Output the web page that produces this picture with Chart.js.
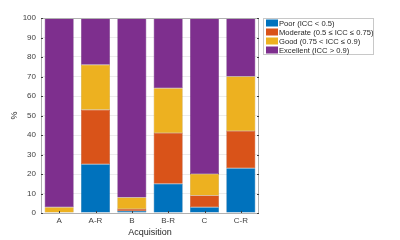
<!DOCTYPE html>
<html><head><meta charset="utf-8">
<script src="https://cdn.jsdelivr.net/npm/chart.js@4"></script>
<style>html,body{margin:0;padding:0;background:#fff}#wrap{width:400px;height:240px}</style>
</head><body><div id="wrap"><canvas id="c" width="400" height="240"></canvas></div>
<script>
const categories = ["A", "A-R", "B", "B-R", "C", "C-R"];
const poor      = [0, 25, 1, 15, 3, 23];
const moderate  = [0, 28, 1, 26, 6, 19];
const good      = [3, 23, 6, 23, 11, 28];
const excellent = [97, 24, 92, 36, 80, 30];
const seriesLabels = ["Poor (ICC < 0.5)", "Moderate (0.5 \u2264 ICC \u2264 0.75)", "Good (0.75 < ICC \u2264 0.9)", "Excellent (ICC > 0.9)"];
const colors = ["#0072BD", "#D95319", "#EDB120", "#7E2F8E"];
const edges = ["#005a96", "#a8401a", "#b88a1a", "#5e2370"];
const yTicks = [0,10,20,30,40,50,60,70,80,90,100];

const FONT = "'Liberation Sans', Arial, sans-serif";
const TXT = "#262626";

const boxPlugin = {
  id: 'boxLegend',
  afterDraw(chart) {
    const ctx = chart.ctx, a = chart.chartArea;
    ctx.save();
    ctx.strokeStyle = "#b0b0b0"; ctx.lineWidth = 1;
    ctx.strokeRect(Math.round(a.left)+0.5, Math.round(a.top)+0.5, Math.round(a.right-a.left)-1, Math.round(a.bottom-a.top));
    const ys = chart.scales.y;
    ctx.strokeStyle = "#404040";
    yTicks.forEach(v => {
      const y = Math.round(ys.getPixelForValue(v)) + 0.5;
      ctx.beginPath(); ctx.moveTo(a.left, y); ctx.lineTo(a.left+2, y); ctx.stroke();
      ctx.beginPath(); ctx.moveTo(a.right, y); ctx.lineTo(a.right-2, y); ctx.stroke();
    });
    const xs = chart.scales.x;
    categories.forEach((c,i) => {
      const x = Math.round(xs.getPixelForValue(i)) + 0.5;
      ctx.beginPath(); ctx.moveTo(x, a.bottom); ctx.lineTo(x, a.bottom-2); ctx.stroke();
    });
    const lx = 263, ly = 18, lw = 110, lh = 36;
    ctx.fillStyle = "#fff"; ctx.fillRect(lx, ly, lw, lh);
    ctx.strokeStyle = "#c8c8c8"; ctx.strokeRect(lx+0.5, ly+0.5, lw, lh);
    ctx.font = "7.6px " + FONT; ctx.textBaseline = "middle"; ctx.fillStyle = TXT;
    chart.data.datasets.forEach((ds, i) => {
      const cy = ly + 5 + i * 9;
      ctx.fillStyle = ds.backgroundColor;
      ctx.fillRect(lx + 3, cy - 3.5, 12, 7);
      ctx.fillStyle = TXT;
      ctx.fillText(ds.label, lx + 16, cy + 0.5);
    });
    ctx.restore();
  }
};

new Chart(document.getElementById('c'), {
  type: 'bar',
  data: {
    labels: categories,
    datasets: [poor, moderate, good, excellent].map((d, i) => ({
      label: seriesLabels[i], data: d, backgroundColor: colors[i],
      borderColor: edges[i], borderWidth: 0.5, borderSkipped: false,
      barPercentage: 0.8, categoryPercentage: 1.0
    }))
  },
  options: {
    responsive: false, animation: false,
    layout: { padding: { left: 0, right: 141, top: 18, bottom: 0 } },
    plugins: { legend: { display: false }, tooltip: { enabled: false } },
    scales: {
      x: {
        stacked: true,
        grid: { display: false, drawTicks: false },
        border: { display: false },
        ticks: { color: "#404040", font: { family: FONT, size: 8 }, padding: 3, maxRotation: 0 },
        title: { display: true, text: "Acquisition", color: TXT, font: { family: FONT, size: 9 }, padding: { top: 0, bottom: 2 } },
        afterFit(s) { s.height = 27; }
      },
      y: {
        stacked: true, min: 0, max: 100,
        afterBuildTicks(s) { s.ticks = yTicks.map(v => ({ value: v })); },
        grid: { color: "#ececec", drawTicks: false },
        border: { display: false },
        ticks: { color: "#404040", font: { family: FONT, size: 8 }, padding: 5 },
        title: { display: true, text: "%", color: TXT, font: { family: FONT, size: 9 }, padding: { top: 9, bottom: 0 } },
        afterFit(s) { s.width = 41; }
      }
    }
  },
  plugins: [boxPlugin]
});
</script>
</body></html>
